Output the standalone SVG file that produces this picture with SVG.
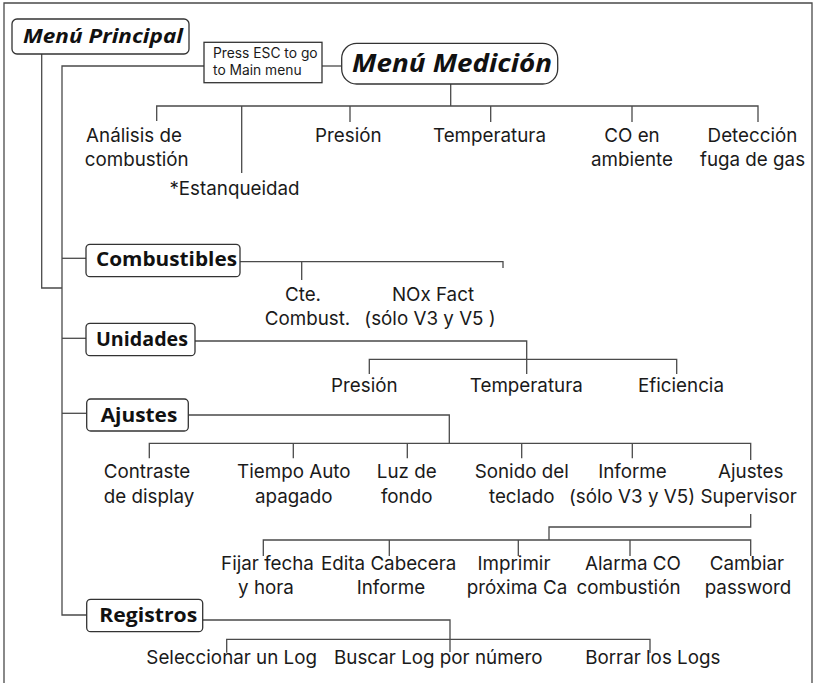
<svg xmlns="http://www.w3.org/2000/svg" width="816" height="683" viewBox="0 0 816 683">
<style>
.t{font-family:Inter,"Open Sans","Liberation Sans",sans-serif;font-size:18.8px;fill:#1a1a1a;text-anchor:middle}
.h{font-family:"Open Sans","Liberation Sans",sans-serif;font-size:19px;font-weight:bold;fill:#111}
.hi{font-family:"Open Sans","Liberation Sans",sans-serif;font-weight:bold;font-style:italic;fill:#111}
.s{font-family:Inter,"Open Sans","Liberation Sans",sans-serif;font-size:13.8px;fill:#1a1a1a}
.box{fill:#fff;stroke:#333;stroke-width:1.3}
.ln{fill:none;stroke:#4a4a4a;stroke-width:1.3}
</style>
<rect width="816" height="683" fill="#fff"/>
<path class="ln" d="M4,683 V3 H812 V683"/>
<g id="connectors" class="ln">
<path d="M41.7,54 V288 H62"/>
<path d="M204,66 H62 V615 H86.7"/>
<path d="M322,66 H341.7"/>
<path d="M450.7,84 V106"/>
<path d="M156.7,121 V106 H758 V122"/>
<path d="M241.7,106 V173 M350,106 V122 M490.7,106 V122 M632,106 V122"/>
<path d="M62,258.3 H86"/>
<path d="M240,261.7 H503 V268 M301.7,261.7 V280"/>
<path d="M62,338.3 H86"/>
<path d="M195,341 H526.7 V374 M369.3,374 V359.3 H676.7 V374"/>
<path d="M62,413.3 H86.7"/>
<path d="M188.3,415 H449.3 V443.3 M149.3,458.3 V443.3 H750.7 V460"/>
<path d="M293.3,443.3 V458.3 M407.3,443.3 V458.3 M521.7,443.3 V458.3 M632.3,443.3 V458.3"/>
<path d="M750.7,514 V527 H549 V540 M263.3,556 V540 H750.7 V556"/>
<path d="M389.3,540 V556 M518.3,540 V556 M630,540 V556"/>
<path d="M202.7,620 H450 V652 M226.7,652.7 V639.3 H650 V653"/>
</g>
<g id="menu-principal">
<rect class="box" x="12" y="19" width="177" height="35" rx="5"/>
<text class="hi" x="23" y="42.5" font-size="20" textLength="160" lengthAdjust="spacingAndGlyphs">Menú Principal</text>
</g>
<g id="press-esc">
<rect class="box" x="204" y="42.3" width="118" height="40.4" stroke-width="1.1"/>
<text class="s"><tspan x="213" y="57.5">Press ESC to go</tspan><tspan x="213" y="74.5">to Main menu</tspan></text>
</g>
<g id="menu-medicion">
<rect class="box" x="341.7" y="43.3" width="216" height="40.7" rx="15"/>
<text class="hi" x="352" y="72" font-size="25" textLength="200" lengthAdjust="spacingAndGlyphs">Menú Medición</text>
</g>
<g id="analisis"><text class="t"><tspan x="134" y="142">Análisis de</tspan><tspan x="136.7" y="166">combustión</tspan></text></g>
<g id="estanqueidad"><text class="t" x="234.5" y="195">*Estanqueidad</text></g>
<g id="presion-med"><text class="t" x="348.3" y="142">Presión</text></g>
<g id="temperatura-med"><text class="t" x="489.5" y="142">Temperatura</text></g>
<g id="co-ambiente"><text class="t"><tspan x="632" y="142">CO en</tspan><tspan x="632" y="166">ambiente</tspan></text></g>
<g id="deteccion"><text class="t"><tspan x="752.5" y="142">Detección</tspan><tspan x="752.5" y="166">fuga de gas</tspan></text></g>
<g id="combustibles">
<rect class="box" x="86" y="244.3" width="154" height="32.4" rx="4"/>
<text class="h" x="96" y="265.5" textLength="141" lengthAdjust="spacingAndGlyphs">Combustibles</text>
</g>
<g id="cte"><text class="t"><tspan x="303" y="301">Cte.</tspan><tspan x="307.5" y="325">Combust.</tspan></text></g>
<g id="nox"><text class="t"><tspan x="433" y="301">NOx Fact</tspan><tspan x="430" y="325">(sólo V3 y V5 )</tspan></text></g>
<g id="unidades">
<rect class="box" x="86" y="323.3" width="109" height="32.4" rx="4"/>
<text class="h" x="96" y="346" textLength="92" lengthAdjust="spacingAndGlyphs">Unidades</text>
</g>
<g id="presion-u"><text class="t" x="364.3" y="391.7">Presión</text></g>
<g id="temperatura-u"><text class="t" x="526.3" y="391.7">Temperatura</text></g>
<g id="eficiencia"><text class="t" x="681" y="391.7">Eficiencia</text></g>
<g id="ajustes">
<rect class="box" x="86.7" y="399" width="101.6" height="32" rx="4"/>
<text class="h" x="100.7" y="421.7" textLength="76.6" lengthAdjust="spacingAndGlyphs">Ajustes</text>
</g>
<g id="contraste"><text class="t"><tspan x="147" y="478.3">Contraste</tspan><tspan x="149" y="503">de display</tspan></text></g>
<g id="tiempo"><text class="t"><tspan x="293.8" y="478.3">Tiempo Auto</tspan><tspan x="293.8" y="503">apagado</tspan></text></g>
<g id="luz"><text class="t"><tspan x="406.7" y="478.3">Luz de</tspan><tspan x="406.7" y="503">fondo</tspan></text></g>
<g id="sonido"><text class="t"><tspan x="521.7" y="478.3">Sonido del</tspan><tspan x="521.7" y="503">teclado</tspan></text></g>
<g id="informe"><text class="t"><tspan x="632.5" y="478.3">Informe</tspan><tspan x="632" y="503">(sólo V3 y V5)</tspan></text></g>
<g id="supervisor"><text class="t"><tspan x="750.7" y="478.3">Ajustes</tspan><tspan x="748.7" y="503">Supervisor</tspan></text></g>
<g id="fecha"><text class="t"><tspan x="267.5" y="570">Fijar fecha</tspan><tspan x="266" y="594">y hora</tspan></text></g>
<g id="cabecera"><text class="t"><tspan x="388.7" y="570">Edita Cabecera</tspan><tspan x="391" y="594">Informe</tspan></text></g>
<g id="imprimir"><text class="t"><tspan x="514" y="570">Imprimir</tspan><tspan x="517" y="594">próxima Ca</tspan></text></g>
<g id="alarma"><text class="t"><tspan x="633" y="570">Alarma CO</tspan><tspan x="628.5" y="594">combustión</tspan></text></g>
<g id="password"><text class="t"><tspan x="747" y="570">Cambiar</tspan><tspan x="748" y="594">password</tspan></text></g>
<g id="registros">
<rect class="box" x="86.7" y="599.3" width="116" height="32.4" rx="4"/>
<text class="h" x="99.3" y="621.7" textLength="98" lengthAdjust="spacingAndGlyphs">Registros</text>
</g>
<g id="seleccionar"><text class="t" x="231.7" y="664">Seleccionar un Log</text></g>
<g id="buscar"><text class="t" x="438.3" y="664">Buscar Log por número</text></g>
<g id="borrar"><text class="t" x="652.8" y="664">Borrar los Logs</text></g>
</svg>
